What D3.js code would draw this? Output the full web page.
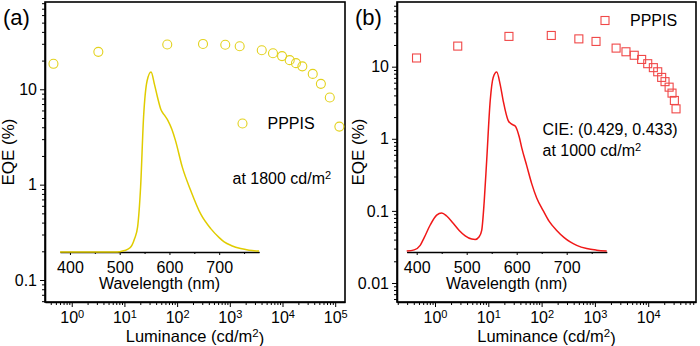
<!DOCTYPE html>
<html>
<head>
<meta charset="utf-8">
<script src="https://cdn.jsdelivr.net/npm/d3@7"></script>
<style>
  body { margin: 0; background: #fff; }
  svg { font-family: "Liberation Sans", Arial, sans-serif; }
  .axis path, .axis line { stroke: #000; }
  .axis text { font-size: 16px; fill: #000; }
</style>
</head>
<body>
<div id="chart"></div>
<script>
// panel (a) EQE vs luminance
const lumA = [0.45, 3.2, 65, 310, 820, 1540, 4040, 6600, 9800, 13700, 18000, 23800, 37500, 53500, 79000, 120000];
const eqeA = [18.5, 24.7, 29.5, 29.9, 29.3, 28.3, 25.7, 23.9, 22.3, 20.2, 18.8, 17.4, 14.5, 11.4, 8.2, 4.06];
// panel (b)
const lumB = [0.45, 2.67, 24.4, 152, 500, 1050, 2500, 3830, 5470, 7540, 9800, 12500, 15100, 17900, 20700, 24700, 28000, 31000, 33300];
const eqeB = [13.2, 19.3, 26.3, 27.1, 24.3, 22.4, 18.1, 16.1, 14.4, 12.6, 11.0, 9.7, 8.5, 7.1, 6.2, 5.2, 4.3, 3.4, 2.6];

// EL spectra (normalized)
const wlA = [380, 490, 500, 510, 520, 525, 530, 536, 542, 548, 555, 563, 570, 576, 583, 590, 597, 605, 612, 626, 643, 663, 683, 700, 710, 725, 743, 760, 780];
const specA = [0, 0, 0.002, 0.008, 0.022, 0.04, 0.075, 0.14, 0.36, 0.75, 0.95, 1.0, 0.93, 0.86, 0.79, 0.76, 0.73, 0.68, 0.62, 0.47, 0.34, 0.21, 0.13, 0.08, 0.056, 0.035, 0.019, 0.01, 0.005];
const wlB = [380, 395, 407, 415, 427, 440, 450, 460, 473, 485, 497, 510, 517, 525, 530, 535, 540, 547, 553, 560, 567, 573, 583, 590, 597, 605, 610, 620, 630, 640, 653, 665, 680, 695, 707, 720, 740, 760, 780];
const specB = [0.005, 0.012, 0.037, 0.08, 0.15, 0.205, 0.217, 0.2, 0.16, 0.12, 0.09, 0.072, 0.07, 0.085, 0.12, 0.28, 0.51, 0.84, 0.97, 1.0, 0.93, 0.84, 0.73, 0.71, 0.70, 0.64, 0.58, 0.48, 0.38, 0.30, 0.23, 0.17, 0.12, 0.08, 0.056, 0.037, 0.019, 0.01, 0.005];

const lumTicksA = [1, 10, 100, 1000, 10000, 100000];
const lumTicksB = [1, 10, 100, 1000, 10000];
const eqeTicksA = [0.1, 1, 10];
const eqeTicksB = [0.01, 0.1, 1, 10];
const wlTicks = [400, 500, 600, 700];
const wlMinor = [450, 550, 650, 750];

const W = 700, H = 346;
const svg = d3.select("#chart").append("svg")
    .attr("width", W)
    .attr("height", H);

function minorTicks(domain) {
  const out = [];
  const lo = Math.floor(Math.log10(domain[0])), hi = Math.ceil(Math.log10(domain[1]));
  for (let e = lo; e <= hi; e++) {
    for (let m = 2; m <= 9; m++) {
      const v = m * Math.pow(10, e);
      if (v >= domain[0] && v <= domain[1]) out.push(v);
    }
  }
  return out;
}

function drawPanel(p) {
  const g = svg.append("g");
  const x = d3.scaleLog().domain(p.xDomain).range([p.left, p.right]);
  const y = d3.scaleLog().domain(p.yDomain).range([p.bottom, p.top]);

  // frame
  g.append("rect")
    .attr("x", p.left).attr("y", p.top)
    .attr("width", p.right - p.left).attr("height", p.bottom - p.top)
    .attr("fill", "none").attr("stroke", "#000").attr("stroke-width", 1.6);

  // bottom axis
  g.append("g").attr("class", "axis")
    .attr("transform", "translate(0," + p.bottom + ")")
    .call(d3.axisBottom(x).tickValues(minorTicks(p.xDomain)).tickSize(3).tickFormat("").tickSizeOuter(0))
    .call(s => s.select(".domain").remove());
  const xa = g.append("g").attr("class", "axis")
    .attr("transform", "translate(0," + p.bottom + ")")
    .call(d3.axisBottom(x).tickValues(p.xTicks).tickSize(5).tickPadding(5).tickSizeOuter(0));
  xa.select(".domain").attr("stroke-width", 1.6);
  xa.selectAll(".tick text").each(function(d) {
    const t = d3.select(this).text("");
    t.append("tspan").text("10");
    t.append("tspan").attr("dy", "-0.45em").attr("font-size", "11px").text(Math.round(Math.log10(d)));
  });

  // left axis
  g.append("g").attr("class", "axis")
    .attr("transform", "translate(" + p.left + ",0)")
    .call(d3.axisLeft(y).tickValues(minorTicks(p.yDomain)).tickSize(3).tickFormat("").tickSizeOuter(0))
    .call(s => s.select(".domain").remove());
  const ya = g.append("g").attr("class", "axis")
    .attr("transform", "translate(" + p.left + ",0)")
    .call(d3.axisLeft(y).tickValues(p.yTicks).tickSize(5).tickPadding(3).tickSizeOuter(0)
      .tickFormat(d => d >= 1 ? d3.format("d")(d) : String(d)));
  ya.select(".domain").attr("stroke-width", 1.6);

  // titles
  g.append("text")
    .attr("transform", "translate(" + p.yTitleX + "," + ((p.top + p.bottom) / 2) + ") rotate(-90)")
    .attr("text-anchor", "middle").attr("font-size", 17)
    .text("EQE (%)");
  const lt = g.append("text")
    .attr("x", (p.left + p.right) / 2).attr("y", 342)
    .attr("text-anchor", "middle").attr("font-size", 16.5);
  lt.append("tspan").text("Luminance (cd/m");
  lt.append("tspan").attr("dy", "-0.45em").attr("font-size", "11.5px").text("2");
  lt.append("tspan").attr("dy", "0.45em").text(")");

  g.append("text")
    .attr("x", p.left - 42).attr("y", 25)
    .attr("font-size", 22)
    .text(p.letter);

  // inset spectrum
  const ix = d3.scaleLinear().domain([380, 780]).range(p.insetX);
  const iy = d3.scaleLinear().domain([0, 1]).range([252, 72]);
  g.append("g").attr("class", "axis")
    .attr("transform", "translate(0,252)")
    .call(d3.axisBottom(ix).tickValues(wlMinor).tickSize(2).tickFormat("").tickSizeOuter(0));
  const ia = g.append("g").attr("class", "axis")
    .attr("transform", "translate(0,252)")
    .call(d3.axisBottom(ix).tickValues(wlTicks).tickSize(3).tickPadding(7).tickSizeOuter(0));
  ia.select(".domain").attr("stroke-width", 1.4);
  g.append("text")
    .attr("x", (p.insetX[0] + p.insetX[1]) / 2).attr("y", 289)
    .attr("text-anchor", "middle").attr("font-size", 16)
    .text("Wavelength (nm)");

  const line = d3.line()
    .x((d, i) => ix(p.wl[i]))
    .y(d => iy(d))
    .curve(d3.curveMonotoneX);
  g.append("path")
    .datum(p.spec)
    .attr("d", line)
    .attr("fill", "none")
    .attr("stroke", p.lineColor)
    .attr("stroke-width", 1.5);

  // EQE markers
  const pts = p.lum.map((l, i) => [l, p.eqe[i]]);
  if (p.marker === "circle") {
    g.selectAll("circle.pt").data(pts).enter().append("circle")
      .attr("class", "pt")
      .attr("cx", d => x(d[0])).attr("cy", d => y(d[1]))
      .attr("r", 4.5)
      .attr("fill", "none").attr("stroke", p.markColor).attr("stroke-width", 1.1);
  } else {
    g.selectAll("rect.pt").data(pts).enter().append("rect")
      .attr("class", "pt")
      .attr("x", d => x(d[0]) - 4).attr("y", d => y(d[1]) - 4)
      .attr("width", 8).attr("height", 8)
      .attr("fill", "none").attr("stroke", p.markColor).attr("stroke-width", 1.1);
  }

  // legend
  if (p.marker === "circle") {
    g.append("circle").attr("cx", p.legend[0]).attr("cy", p.legend[1]).attr("r", 4.5)
      .attr("fill", "none").attr("stroke", p.markColor).attr("stroke-width", 1.1);
  } else {
    g.append("rect").attr("x", p.legend[0] - 4).attr("y", p.legend[1] - 4).attr("width", 8).attr("height", 8)
      .attr("fill", "none").attr("stroke", p.markColor).attr("stroke-width", 1.1);
  }
  g.append("text")
    .attr("x", p.legend[0] + 25).attr("y", p.legend[1] + 5.5)
    .attr("font-size", 16)
    .text("PPPIS");

  p.notes.forEach(n => {
    const t = g.append("text").attr("x", n.x).attr("y", n.y).attr("font-size", 16);
    t.append("tspan").text(n.text);
    if (n.sup) {
      t.append("tspan").attr("dy", "-0.45em").attr("font-size", "11px").text(n.sup);
    }
  });
}

drawPanel({
  letter: "(a)",
  left: 45, right: 345, top: 2, bottom: 302,
  xDomain: [0.311, 153500], yDomain: [0.0588, 82.3],
  xTicks: lumTicksA, yTicks: eqeTicksA,
  yTitleX: 14,
  lum: lumA, eqe: eqeA, wl: wlA, spec: specA,
  insetX: [60, 259],
  marker: "circle", markColor: "#e3d21e", lineColor: "#e0cc00",
  legend: [242.5, 123.5],
  notes: [{ x: 232.5, y: 184, text: "at 1800 cd/m", sup: "2" }]
});

drawPanel({
  letter: "(b)",
  left: 397, right: 696, top: 2, bottom: 302,
  xDomain: [0.1936, 78900], yDomain: [0.00545, 78.9],
  xTicks: lumTicksB, yTicks: eqeTicksB,
  yTitleX: 364,
  lum: lumB, eqe: eqeB, wl: wlB, spec: specB,
  insetX: [406.7, 606.7],
  marker: "square", markColor: "#f04848", lineColor: "#f01818",
  legend: [605, 20.5],
  notes: [
    { x: 542.5, y: 135, text: "CIE: (0.429, 0.433)" },
    { x: 542.5, y: 156, text: "at 1000 cd/m", sup: "2" }
  ]
});
</script>
</body>
</html>
